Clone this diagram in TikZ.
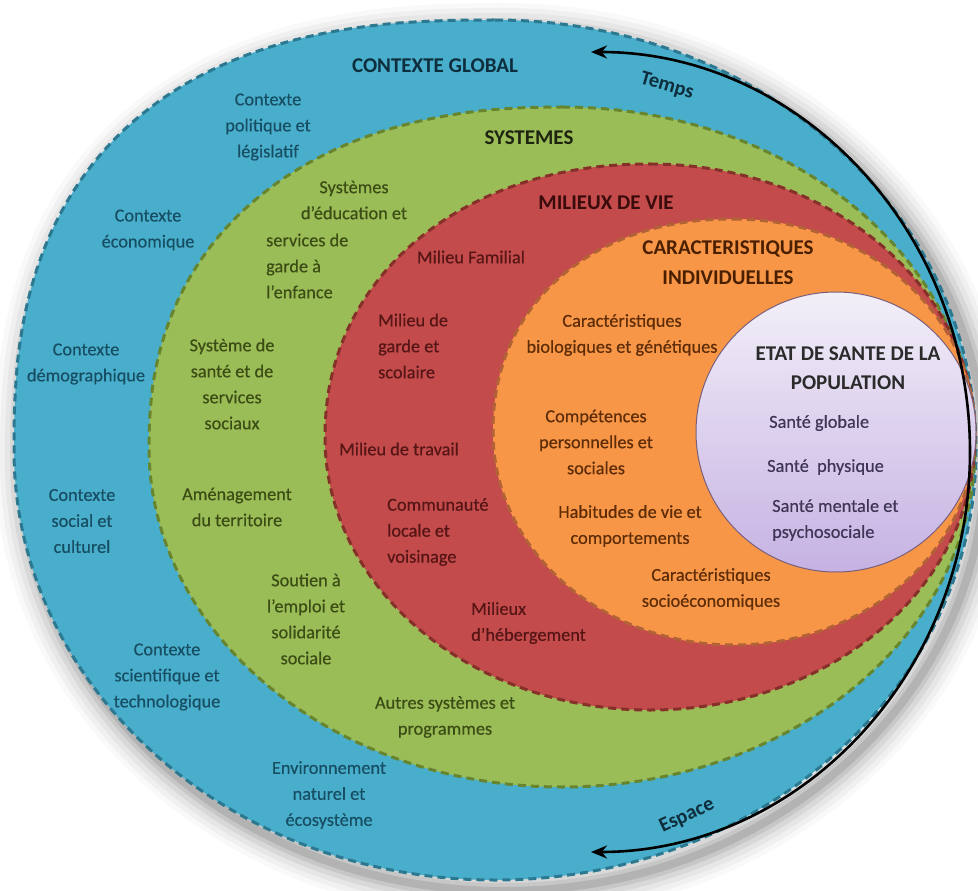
\documentclass[tikz,border=0pt]{standalone}
\usepackage{fontspec}
\setmainfont{Carlito}
\newfontfamily\bodyfont{Carlito}[FakeBold=0.4]
\usetikzlibrary{arrows.meta}
\definecolor{cblue}{HTML}{48AECB}
\definecolor{cblueb}{HTML}{2B7890}
\definecolor{cgreen}{HTML}{9BBD57}
\definecolor{cgreenb}{HTML}{67852F}
\definecolor{cred}{HTML}{C34B4C}
\definecolor{credb}{HTML}{86302A}
\definecolor{corange}{HTML}{F79646}
\definecolor{coranb}{HTML}{B26236}
\definecolor{cpurtop}{HTML}{F2EFF8}
\definecolor{cpurbot}{HTML}{C6B2E3}
\definecolor{cpurb}{HTML}{7A5F7C}
\definecolor{tblue}{HTML}{174E63}
\definecolor{tblueh}{HTML}{0F2E3D}
\definecolor{tgreen}{HTML}{3B4C15}
\definecolor{tgreenh}{HTML}{1E2410}
\definecolor{tred}{HTML}{561515}
\definecolor{tredh}{HTML}{3A0B0B}
\definecolor{torange}{HTML}{5E2D08}
\definecolor{torangeh}{HTML}{4A1F00}
\definecolor{tpurh}{HTML}{2B2B2B}
\definecolor{tpur}{HTML}{3F3555}
% egg-like layer outline: centre x, centre y, x radius, y radius, exponent of the upper-left quarter
\newcommand{\eggpath}[5]{(#1,#2-#4) arc[start angle=-90, end angle=180, x radius=#3, y radius=#4]
  -- plot[domain=0:90, samples=60, variable=\t]
     ({#1-#3*pow(max(cos(\t),0.00001),2/#5)}, {#2-#4*pow(max(sin(\t),0.00001),2/#5)}) -- cycle}
\tikzset{
  layer/.style={line width=3pt, dash pattern=on 8pt off 5pt},
  txt/.style={font=\bodyfont\fontsize{18.3}{26}\selectfont, align=center, inner sep=0pt},
  ltxt/.style={font=\bodyfont\fontsize{18.3}{26}\selectfont, align=left, anchor=west, inner sep=0pt},
  head/.style={font=\fontsize{21}{30}\selectfont\bfseries, align=center, inner sep=0pt},
  arrowlab/.style={font=\fontsize{20.5}{24}\selectfont\bfseries, text=tblueh, inner sep=0pt},
  timearrow/.style={line width=2.6pt, black, {Stealth[length=16pt,width=13pt]}-{Stealth[length=16pt,width=13pt]}}
}
\begin{document}
\begin{tikzpicture}[x=1pt,y=-1pt]
\useasboundingbox (0,0) rectangle (978,891);
\clip (0,0) rectangle (978,891);
% soft shadow
\foreach \w/\o in {56/0.025,46/0.035,36/0.045,26/0.06,16/0.08,8/0.1}
  \draw[line width=\w pt, black, opacity=\o, shift={(9,11)}] \eggpath{495}{450}{481}{430}{2.5};
% layers
\draw[layer, cblueb, fill=cblue] \eggpath{495}{450}{481}{430}{2.5};
\draw[layer, cgreenb, fill=cgreen] \eggpath{562}{447}{413}{340}{2.25};
\draw[layer, credb, fill=cred] \eggpath{650}{437}{325}{273}{2.1};
\draw[layer, coranb, fill=corange] \eggpath{734}{432}{241}{213}{2.15};
\shade[top color=cpurtop, bottom color=cpurbot] (836,432) circle[radius=140];
\draw[cpurb, line width=1pt] (836,432) circle[radius=140];
% time / space arrow
\coordinate (ttop) at (591,52);
\draw[timearrow] (ttop) arc[start angle=-90, end angle=90, x radius=379, y radius=400] coordinate (tbot);
\node[arrowlab, rotate=-16] (temps) at (667,86) {Temps};
\node[arrowlab, rotate=25] (espace) at (687,816) {Espace};
% blue layer texts
\node[head, text=tblueh] (cg) at (435,66) {CONTEXTE GLOBAL};
\node[txt, text=tblue] (c1) at (268,127) {Contexte\\politique et\\législatif};
\node[txt, text=tblue] (c2) at (148,230) {Contexte\\économique};
\node[txt, text=tblue] (c3) at (86,364) {Contexte\\démographique};
\node[txt, text=tblue] (c4) at (82,521) {Contexte\\social et\\culturel};
\node[txt, text=tblue] (c5) at (167,677) {Contexte\\scientifique et\\technologique};
\node[txt, text=tblue] (c6) at (329,795) {Environnement\\naturel et\\écosystème};
% green layer texts
\node[head, text=tgreenh] (sy) at (529,138) {SYSTEMES};
\node[txt, text=tgreen] (s1a) at (354,200) {Systèmes\\d’éducation et};
\node[ltxt, text=tgreen] (s1b) at (266,266) {services de\\garde à\\l’enfance};
\node[txt, text=tgreen] (s2) at (232,384) {Système de\\santé et de\\services\\sociaux};
\node[txt, text=tgreen] (s3) at (237,507) {Aménagement\\du territoire};
\node[txt, text=tgreen] (s4) at (306,619) {Soutien à\\l’emploi et\\solidarité\\sociale};
\node[txt, text=tgreen] (s5) at (445,717) {Autres systèmes et\\programmes};
% red layer texts
\node[head, text=tredh] (mv) at (606,203) {MILIEUX DE VIE};
\node[txt, text=tred] (m1) at (471,257) {Milieu Familial};
\node[ltxt, text=tred] (m2) at (378,346) {Milieu de\\garde et\\scolaire};
\node[txt, text=tred] (m3) at (399,449) {Milieu de travail};
\node[ltxt, text=tred] (m4) at (387,532) {Communauté\\locale et\\voisinage};
\node[ltxt, text=tred] (m5) at (471,623) {Milieux\\d’hébergement};
% orange layer texts
\node[head, text=torangeh] (ci) at (728,263) {CARACTERISTIQUES\\INDIVIDUELLES};
\node[txt, text=torange] (o1) at (622,335) {Caractéristiques\\biologiques et génétiques};
\node[txt, text=torange] (o2) at (596,442) {Compétences\\personnelles et\\sociales};
\node[txt, text=torange] (o3) at (630,526) {Habitudes de vie et\\comportements};
\node[txt, text=torange] (o4) at (711,589) {Caractéristiques\\socioéconomiques};
% purple texts
\node[head, text=tpurh, font=\fontsize{21}{29}\selectfont\bfseries] (es) at (848,368) {ETAT DE SANTE DE LA\\POPULATION};
\node[ltxt, text=tpur] (p1) at (769,423) {Santé globale};
\node[ltxt, text=tpur] (p2) at (767,467) {Santé\ \ physique};
\node[ltxt, text=tpur] (p3) at (772,520) {Santé mentale et\\psychosociale};
\end{tikzpicture}
\end{document}
